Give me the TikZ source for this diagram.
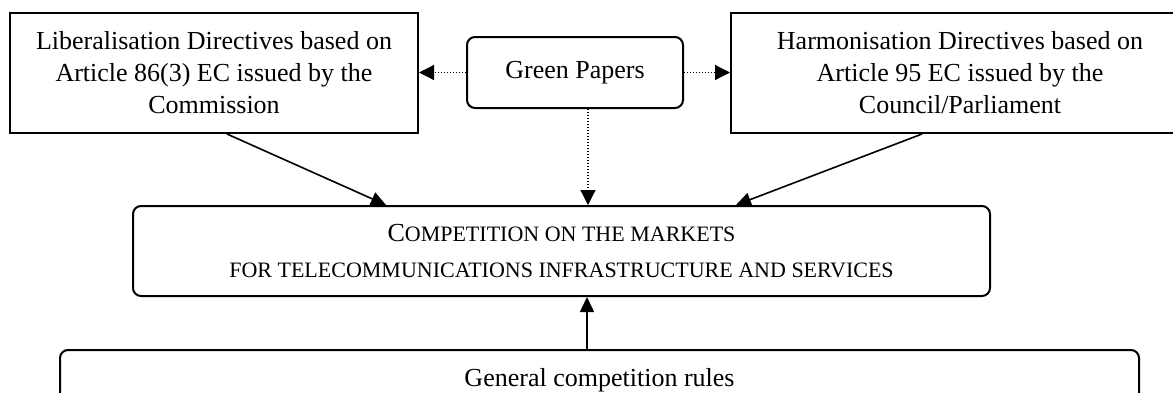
\documentclass[tikz,border=0pt]{standalone}
\usepackage{fontspec}
\setmainfont{Liberation Serif}
\usetikzlibrary{arrows.meta}
% caps-and-small-caps set by hand
\newcommand{\capsmall}[1]{{\fontsize{11}{13}\selectfont #1}}
\begin{document}
\begin{tikzpicture}[x={(0.5pt,0)}, y={(0,-0.5pt)},
  box/.style={draw, line width=1pt, inner sep=0pt, align=center,
    font=\fontsize{13}{16}\selectfont},
  roundbox/.style={box, rounded corners=4pt},
  solidarrow/.style={line width=0.8pt, -{Triangle[length=7.5pt,width=7pt]}},
  dotarrow/.style={line width=0.6pt, dash pattern=on 0.6pt off 0.9pt,
    -{Triangle[length=7.5pt,width=7.5pt]}},
]
% canvas
\fill[white] (0,0) rectangle (1173,392);
\useasboundingbox (0,0) rectangle (1173,392);
\clip (0,0) rectangle (1173,392);

% top row
\node[box, minimum width=204pt, minimum height=60pt] (lib) at (214,73)
  {Liberalisation Directives based on\\Article 86(3) EC issued by the\\Commission};
\node[box, minimum width=229pt, minimum height=60pt] (harm) at (960,73)
  {Harmonisation Directives based on\\Article 95 EC issued by the\\Council/Parliament};
\node[roundbox, minimum width=108pt, minimum height=35.5pt] (green) at (575,72.5)
  {Green Papers};

% central box
\node[roundbox, minimum width=428.5pt, minimum height=45pt] (comp) at (561.5,251)
  {C\capsmall{OMPETITION ON THE MARKETS}\\[2pt]
   \capsmall{FOR TELECOMMUNICATIONS INFRASTRUCTURE AND SERVICES}};

% bottom box (runs past the lower edge)
\node[roundbox, minimum width=539.5pt, minimum height=30pt] (gen) at (599.5,380)
  {General competition rules};

% connectors
\draw[dotarrow] (green.west) -- (green.west -| lib.east);
\draw[dotarrow] (green.east) -- (green.east -| harm.west);
\draw[dotarrow] ([xshift=6.5pt]green.south) -- ([xshift=6.5pt]green.south |- comp.north);
\draw[solidarrow] ([xshift=6.5pt]lib.south) -- ([xshift=-87.75pt]comp.north);
\draw[solidarrow] ([xshift=-19pt]harm.south) -- ([xshift=87.25pt]comp.north);
\draw[solidarrow] ([xshift=-6.25pt]gen.north) -- ([xshift=-6.25pt]gen.north |- comp.south);
\end{tikzpicture}
\end{document}
